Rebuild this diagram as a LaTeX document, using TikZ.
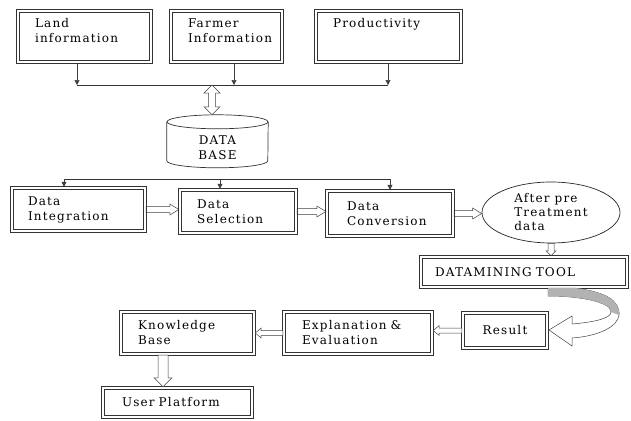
\documentclass[tikz,border=0pt]{standalone}
\usepackage{fontspec}
\setmainfont{DejaVu Serif}[LetterSpace=10]
\usetikzlibrary{calc,positioning,shapes.geometric,arrows.meta}

% hollow block arrow: start, end, shaft half width, head half width, head length
\newcommand\fatarrow[5]{%
  \draw[hollow] let \p1=#1, \p2=#2, \n1={atan2(\y2-\y1,\x2-\x1)}, \n2={veclen(\x2-\x1,\y2-\y1)} in
    [shift={(\p1)}, rotate=\n1] (0pt,-#3) -- ({\n2-#5},-#3) -- ({\n2-#5},-#4) -- ({\n2},0pt)
    -- ({\n2-#5},#4) -- ({\n2-#5},#3) -- (0pt,#3) -- cycle;}
% same, with a head at both ends
\newcommand\fatarrowboth[5]{%
  \draw[hollow] let \p1=#1, \p2=#2, \n1={atan2(\y2-\y1,\x2-\x1)}, \n2={veclen(\x2-\x1,\y2-\y1)} in
    [shift={(\p1)}, rotate=\n1] (0pt,0pt) -- (#5,-#4) -- (#5,-#3) -- ({\n2-#5},-#3) -- ({\n2-#5},-#4)
    -- ({\n2},0pt) -- ({\n2-#5},#4) -- ({\n2-#5},#3) -- (#5,#3) -- (#5,#4) -- cycle;}

\begin{document}
\begin{tikzpicture}[x=1pt,y=-1pt,font=\fontsize{12}{15}\selectfont,
  panel/.style={align=left,inner ysep=0pt},
  toprow/.style={panel,text height=18pt,text depth=35pt,inner xsep=18pt},
  feed/.style={draw=black!75,line width=0.6pt,-{Triangle[length=5pt,width=5pt]}},
  bar/.style={draw=black!80,line width=0.7pt},
  hollow/.style={draw=black!75,fill=white,line width=0.5pt}]
\useasboundingbox (0,0) rectangle (631,420);

% sources
\node[toprow,text width=99pt] (land) at (84.5,36.5) {Land\\information};
\node[toprow,text width=77pt] (farmer) at (226.5,36.5) {Farmer\\Information};
\node[toprow,text width=111pt] (prod) at (388.5,36.5) {Productivity};

\coordinate (bl) at (77,85);
\coordinate (bm) at (234,85);
\coordinate (br) at (388,85);
\coordinate (bus) at (212,85);
\draw[feed] (land.south -| bl) -- (bl);
\draw[feed] (farmer.south -| bm) -- (bm);
\draw[feed] (prod.south -| br) -- (br);
\draw[bar] (bl) -- (br);

% data base
\node[minimum width=101pt,minimum height=65pt,inner sep=0pt,align=center] (db) at (217.5,147.5) {DATA\\BASE};
\draw[bar] ([yshift=-7pt]db.north) ellipse [x radius=50.5pt,y radius=7pt];
\draw[bar] ([yshift=-7pt]db.north west) -- ([yshift=-46pt]db.north west)
  arc[start angle=180,end angle=360,x radius=50.5pt,y radius=7pt] -- ([yshift=-7pt]db.north east);
\fatarrowboth{(bus)}{(bus |- db.north)}{3.5pt}{8pt}{8pt}

% preprocessing
\node[panel,inner xsep=17pt,text width=101pt,minimum height=45pt] (integ) at (78.5,209.5) {Data\\Integration};
\node[panel,inner xsep=18pt,text width=82pt,minimum height=45pt] (select) at (238,211.5) {Data\\Selection};
\node[panel,inner xsep=21pt,text width=86pt,minimum height=47pt] (conv) at (390,213.5) {Data\\Conversion};
\node[ellipse,draw=black!85,line width=0.7pt,minimum width=138pt,minimum height=61pt,inner sep=0pt,
  align=left,font=\fontsize{12}{14}\selectfont] (pre) at (551,212.5) {After pre\\Treatment\\data};

\coordinate (dl) at (64,179);
\coordinate (dc) at (220,179);
\coordinate (dr) at (390,179);
\draw[bar] (dl) -- (dr);
\draw[feed] (dl) -- (dl |- integ.north);
\draw[feed] (dc) -- (dc |- select.north);
\draw[feed] (dr) -- (dr |- conv.north);

\fatarrow{(integ.east)}{(integ.east -| select.west)}{3pt}{5.5pt}{9pt}
\fatarrow{(select.east)}{(select.east -| conv.west)}{3pt}{5.5pt}{9pt}
\fatarrow{(conv.east)}{(conv.east -| pre.west)}{3pt}{5.5pt}{9pt}

% mining
\node[panel,inner xsep=15pt,text width=178pt,minimum height=32pt] (tool) at (524,272) {DATAMINING TOOL};
\fatarrow{(pre.south)}{(pre.south |- tool.north)}{3pt}{5pt}{5pt}

\node[panel,minimum width=86pt,minimum height=37pt,align=center] (result) at (505,330.5) {Result};
\node[panel,inner xsep=19pt,text width=112pt,minimum height=44pt] (expl) at (358,333) {Explanation \&\\Evaluation};
\node[panel,inner xsep=18pt,text width=99pt,minimum height=44pt] (know) at (187.5,333) {Knowledge\\Base};
\node[panel,inner xsep=20pt,text width=111pt,minimum height=31pt] (user) at (177.5,402.5) {User Platform};

% double frames
\foreach \n in {land,farmer,prod,integ,select,conv,tool,result,expl,know,user} {
  \draw[bar] (\n.north west) rectangle (\n.south east);
  \draw[bar] ([shift={(2.4pt,-2.4pt)}]\n.north west) rectangle ([shift={(-2.4pt,2.4pt)}]\n.south east);
}

% curved arrow from the tool to the result
\draw[hollow] (548,288) -- (575,288) .. controls (605,292) and (620,300) .. (619,315)
  .. controls (618,326) and (600,336) .. (572,338) -- (572,346) -- (549,330) -- (572,316) -- (572,324)
  .. controls (596,322) and (611,318) .. (611,312) .. controls (611,302) and (580,296) .. (548,296) -- cycle;
\fill[gray!60] (548,288) -- (575,288) .. controls (605,292) and (620,300) .. (619,315)
  -- (611,312) .. controls (611,302) and (580,296) .. (548,296) -- cycle;

\fatarrow{(result.west)}{(result.west -| expl.east)}{2.5pt}{5pt}{6pt}
\fatarrow{(expl.west)}{(expl.west -| know.east)}{2.5pt}{5pt}{6pt}
\coordinate (kd) at ([xshift=-24.5pt]know.south);
\fatarrow{(kd)}{(kd |- user.north)}{5pt}{9pt}{9pt}
\end{tikzpicture}
\end{document}
